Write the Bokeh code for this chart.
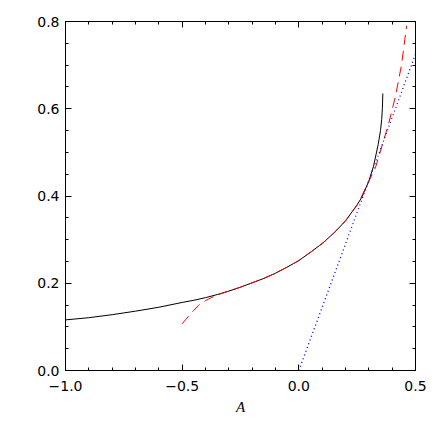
from bokeh.plotting import figure
from bokeh.models import FixedTicker, LinearAxis, Range1d
from bokeh.embed import file_html
from bokeh.resources import INLINE

# Black solid curve
a_solid = [-1.0, -0.9, -0.8, -0.7, -0.6, -0.5, -0.45, -0.4, -0.35, -0.3, -0.25, -0.2, -0.15, -0.1, -0.05, 0.0,
           0.05, 0.1, 0.15, 0.2, 0.25, 0.27, 0.3, 0.32, 0.34, 0.35, 0.355, 0.358, 0.36]
y_solid = [0.116, 0.121, 0.128, 0.136, 0.145, 0.156, 0.161, 0.167, 0.174, 0.182, 0.191, 0.201, 0.211, 0.223, 0.237, 0.252,
           0.271, 0.291, 0.315, 0.343, 0.380, 0.397, 0.434, 0.468, 0.518, 0.550, 0.575, 0.600, 0.635]

# Red dashed curve
a_dash = [-0.5, -0.486, -0.45, -0.429, -0.4, -0.379, -0.35, -0.307, -0.25, -0.2, -0.15, -0.1, -0.05, 0.0,
          0.05, 0.1, 0.15, 0.2, 0.25, 0.286, 0.329, 0.35, 0.386, 0.414, 0.44, 0.462]
y_dash = [0.107, 0.116, 0.138, 0.150, 0.160, 0.166, 0.173, 0.181, 0.191, 0.201, 0.211, 0.223, 0.237, 0.252,
          0.271, 0.291, 0.315, 0.343, 0.379, 0.418, 0.466, 0.503, 0.568, 0.628, 0.700, 0.790]

# Blue dotted line
a_dot = [0.0, 0.5]
y_dot = [0.0, 0.725]

x_major = [-1.0, -0.5, 0.0, 0.5]
x_labels = ["\u22121.0", "\u22120.5", "0.0", "0.5"]
x_minor = [-1.0, -0.9, -0.8, -0.7, -0.6, -0.5, -0.4, -0.3, -0.2, -0.1, 0.0, 0.1, 0.2, 0.3, 0.4, 0.5]
y_major = [0.0, 0.2, 0.4, 0.6, 0.8]
y_labels = ["0.0", "0.2", "0.4", "0.6", "0.8"]
y_minor = [0.0, 0.05, 0.1, 0.15, 0.2, 0.25, 0.3, 0.35, 0.4, 0.45, 0.5, 0.55, 0.6, 0.65, 0.7, 0.75, 0.8]

p = figure(width=428, height=428, output_backend="svg", toolbar_location=None,
           x_range=Range1d(-1.0, 0.5), y_range=Range1d(0.0, 0.8),
           min_border_left=65, min_border_right=13, min_border_top=21, min_border_bottom=58,
           x_axis_label="A")
p.xgrid.visible = False
p.ygrid.visible = False
p.outline_line_color = "black"
p.outline_line_width = 1
p.background_fill_color = "white"
p.border_fill_color = "white"

p.line(a_solid, y_solid, line_color="black", line_width=1)
p.line(a_dash, y_dash, line_color="red", line_width=1, line_dash="10 6")
p.line(a_dot, y_dot, line_color="blue", line_width=1.3, line_dash="1 3")

font = "DejaVu Sans"

def style(ax, ticks, minor, labels, show):
    ax.ticker = FixedTicker(ticks=ticks, minor_ticks=minor)
    ax.major_tick_in = 6
    ax.major_tick_out = 0
    ax.minor_tick_in = 3
    ax.minor_tick_out = 0
    ax.axis_line_color = "black"
    ax.major_tick_line_color = "black"
    ax.minor_tick_line_color = "black"
    ax.major_label_text_font = font
    ax.major_label_text_font_size = "14px"
    ax.major_label_text_color = "black"
    if show:
        ax.major_label_overrides = {t: l for t, l in zip(ticks, labels)}
    else:
        ax.major_label_text_font_size = "0px"
        ax.major_label_text_color = None

style(p.xaxis[0], x_major, x_minor, x_labels, True)
style(p.yaxis[0], y_major, y_minor, y_labels, True)
p.xaxis[0].major_label_standoff = 10
p.yaxis[0].major_label_standoff = 6
p.xaxis[0].axis_label_text_font = "Liberation Serif"
p.xaxis[0].axis_label_text_font_style = "italic"
p.xaxis[0].axis_label_text_font_size = "15px"
p.xaxis[0].axis_label_text_color = "black"
p.xaxis[0].axis_label_standoff = 5

top = LinearAxis()
style(top, x_major, x_minor, x_labels, False)
p.add_layout(top, "above")
right = LinearAxis()
style(right, y_major, y_minor, y_labels, False)
p.add_layout(right, "right")

open("out.html", "w").write(file_html(p, INLINE))
